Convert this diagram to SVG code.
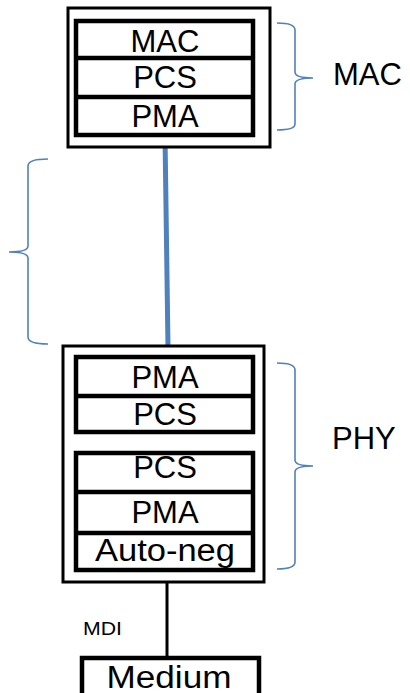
<svg xmlns="http://www.w3.org/2000/svg" width="410" height="693" viewBox="0 0 410 693">
<style>
.outer{fill:#fff;stroke:#000;stroke-width:3}
.inner{fill:#fff;stroke:#000;stroke-width:4.5}
.div{stroke:#000;stroke-width:4.5}
.lbl{font-family:"Liberation Sans",Arial,sans-serif;font-size:31px;fill:#000;text-anchor:middle}
.side{font-family:"Liberation Sans",Arial,sans-serif;font-size:31px;fill:#000}
.brace{fill:none;stroke:#4f81bd;stroke-width:1.6}
</style>
<rect width="410" height="693" fill="#fff"/>
<g id="connectors">
<line x1="165" y1="136" x2="168" y2="347" stroke="#4f81bd" stroke-width="5"/>
<line x1="167" y1="582" x2="167" y2="657" stroke="#000" stroke-width="3"/>
</g>
<g id="mac-stack">
<rect class="outer" x="68" y="8" width="202" height="139"/>
<rect class="inner" x="76" y="21" width="177" height="114"/>
<line class="div" x1="76" y1="58" x2="253" y2="58"/>
<line class="div" x1="76" y1="97" x2="253" y2="97"/>
<text class="lbl" x="165" y="52">MAC</text>
<text class="lbl" x="165" y="88">PCS</text>
<text class="lbl" x="165" y="127">PMA</text>
</g>
<g id="brace-mac">
<path class="brace" d="M277,23 Q295,23 295,30 L295,72 Q295,78 313,78 Q295,78 295,84 L295,124 Q295,130 277,130"/>
<text class="side" x="333" y="85">MAC</text>
</g>
<g id="brace-link">
<path class="brace" d="M48,159 Q28,159 28,166 L28,246 Q28,252 9,252 Q28,252 28,258 L28,337 Q28,344 48,344"/>
</g>
<g id="phy-stack">
<rect class="outer" x="63" y="346" width="201" height="236"/>
<rect class="inner" x="76" y="357" width="177" height="75"/>
<line class="div" x1="76" y1="396" x2="253" y2="396"/>
<text class="lbl" x="165" y="388">PMA</text>
<text class="lbl" x="165" y="425">PCS</text>
<rect class="inner" x="76" y="453" width="177" height="117"/>
<line class="div" x1="76" y1="492" x2="253" y2="492"/>
<line class="div" x1="76" y1="533" x2="253" y2="533"/>
<text class="lbl" x="165" y="478">PCS</text>
<text class="lbl" x="165" y="523">PMA</text>
<text class="lbl" x="165" y="561" textLength="140" lengthAdjust="spacingAndGlyphs">Auto-neg</text>
</g>
<g id="brace-phy">
<path class="brace" d="M277,363 Q295,363 295,370 L295,460 Q295,466 313,466 Q295,466 295,472 L295,562 Q295,569 277,569"/>
<text class="side" x="332" y="449">PHY</text>
</g>
<g id="mdi">
<text x="83" y="635" font-family="Liberation Sans,Arial,sans-serif" font-size="19" fill="#000" textLength="39" lengthAdjust="spacingAndGlyphs">MDI</text>
</g>
<g id="medium">
<rect class="inner" x="82" y="658" width="177" height="45"/>
<text class="lbl" x="169" y="688" font-size="33" textLength="125" lengthAdjust="spacingAndGlyphs">Medium</text>
</g>
</svg>
